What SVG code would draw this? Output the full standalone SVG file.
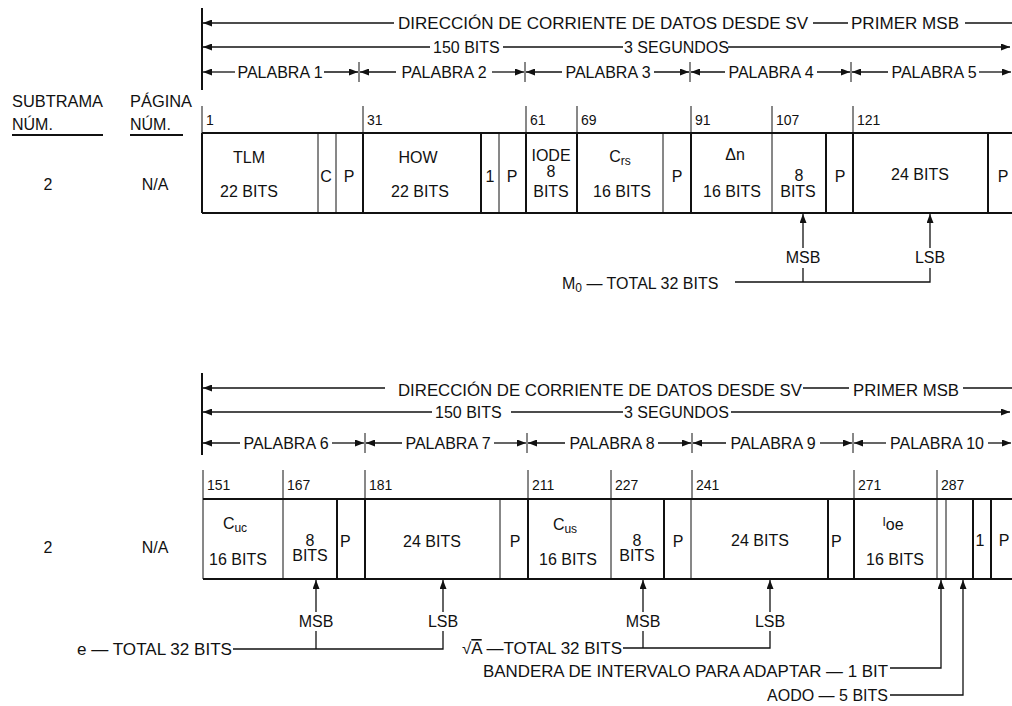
<svg xmlns="http://www.w3.org/2000/svg" width="1012" height="706" viewBox="0 0 1012 706">
<defs>
<marker id="ah" markerUnits="userSpaceOnUse" markerWidth="9" markerHeight="7" refX="9" refY="3.5" orient="auto-start-reverse"><path d="M0,0 L9,3.5 L0,7 z" fill="#111"/></marker>
<style>
text{font-family:"Liberation Sans",Arial,sans-serif;font-size:16px;fill:#111}
.m{text-anchor:middle}
.n{font-size:14px}
.s{font-size:12px}
.ln{stroke:#111;stroke-width:1.3;fill:none}
.tk{stroke:#111;stroke-width:2;fill:none}
.th{stroke:#111;stroke-width:1;fill:none}
.ar{stroke:#111;stroke-width:1.3;fill:none;marker-end:url(#ah)}
.al{stroke:#111;stroke-width:1.3;fill:none;marker-start:url(#ah)}
.ul{stroke:#111;stroke-width:2}
</style>
</defs>
<rect width="1012" height="706" fill="#fff"/>

<!-- ===== TOP HEADER ===== -->
<g id="top-header">
<line class="tk" x1="202" y1="8" x2="202" y2="90"/>
<line class="al" x1="203" y1="23" x2="394" y2="23"/>
<text x="398" y="29" textLength="410" lengthAdjust="spacingAndGlyphs">DIRECCIÓN DE CORRIENTE DE DATOS DESDE SV</text>
<line class="ln" x1="813" y1="23" x2="848" y2="23"/>
<text x="851" y="29" textLength="108" lengthAdjust="spacingAndGlyphs">PRIMER MSB</text>
<line class="ln" x1="965" y1="23" x2="1012" y2="23"/>
<line class="al" x1="203" y1="47" x2="430" y2="47"/>
<text x="433" y="53">150 BITS</text>
<line class="ln" x1="503" y1="47" x2="623" y2="47"/>
<text x="624" y="53">3 SEGUNDOS</text>
<line class="ar" x1="728" y1="47" x2="1010" y2="47"/>
<line class="th" x1="359" y1="62" x2="359" y2="82"/>
<line class="th" x1="525" y1="62" x2="525" y2="82"/>
<line class="th" x1="690" y1="62" x2="690" y2="82"/>
<line class="th" x1="851" y1="62" x2="851" y2="82"/>
<line class="al" x1="203" y1="72" x2="235" y2="72"/><text class="m" x="280" y="78">PALABRA 1</text><line class="ar" x1="324" y1="72" x2="358" y2="72"/>
<line class="al" x1="360" y1="72" x2="396" y2="72"/><text class="m" x="444" y="78">PALABRA 2</text><line class="ar" x1="492" y1="72" x2="524" y2="72"/>
<line class="al" x1="526" y1="72" x2="562" y2="72"/><text class="m" x="608" y="78">PALABRA 3</text><line class="ar" x1="654" y1="72" x2="689" y2="72"/>
<line class="al" x1="691" y1="72" x2="725" y2="72"/><text class="m" x="771" y="78">PALABRA 4</text><line class="ar" x1="817" y1="72" x2="850" y2="72"/>
<line class="al" x1="852" y1="72" x2="888" y2="72"/><text class="m" x="934" y="78">PALABRA 5</text><line class="ar" x1="979" y1="72" x2="1011" y2="72"/>
</g>

<g id="row-labels">
<text x="12" y="107" textLength="91" lengthAdjust="spacingAndGlyphs">SUBTRAMA</text>
<text x="12" y="130">NÚM.</text>
<line class="ul" x1="12" y1="135" x2="103" y2="135"/>
<text x="130" y="107" textLength="62" lengthAdjust="spacingAndGlyphs">PÁGINA</text>
<text x="130" y="130">NÚM.</text>
<line class="ul" x1="130" y1="135" x2="183" y2="135"/>
<text class="m" x="48" y="190">2</text>
<text class="m" x="155" y="190">N/A</text>
<text class="m" x="48" y="553">2</text>
<text class="m" x="155" y="553">N/A</text>
</g>

<!-- ===== TOP TABLE ===== -->
<g id="top-bit-numbers">
<line class="th" x1="202" y1="106" x2="202" y2="133"/><text class="n" x="206" y="125">1</text>
<line class="th" x1="363" y1="106" x2="363" y2="133"/><text class="n" x="367" y="125">31</text>
<line class="th" x1="526" y1="106" x2="526" y2="133"/><text class="n" x="530" y="125">61</text>
<line class="th" x1="577" y1="106" x2="577" y2="133"/><text class="n" x="581" y="125">69</text>
<line class="th" x1="691" y1="106" x2="691" y2="133"/><text class="n" x="695" y="125">91</text>
<line class="th" x1="772" y1="106" x2="772" y2="133"/><text class="n" x="776" y="125">107</text>
<line class="th" x1="853" y1="106" x2="853" y2="133"/><text class="n" x="857" y="125">121</text>
</g>
<g id="top-table-frame">
<line class="tk" x1="202" y1="133" x2="1012" y2="133"/>
<line class="tk" x1="202" y1="213" x2="1012" y2="213"/>
<line class="tk" x1="202" y1="133" x2="202" y2="213"/>
</g>
<g id="tlm"><text class="m" x="249" y="163">TLM</text><text class="m" x="249" y="197">22 BITS</text></g>
<g id="c1"><line class="th" x1="318" y1="133" x2="318" y2="213"/><text class="m" x="326" y="182">C</text></g>
<g id="p1"><line class="th" x1="336" y1="133" x2="336" y2="213"/><text class="m" x="349" y="182">P</text></g>
<g id="how"><line class="tk" x1="363" y1="133" x2="363" y2="213"/><text class="m" x="418" y="163">HOW</text><text class="m" x="420" y="197">22 BITS</text></g>
<g id="t2"><line class="tk" x1="481" y1="133" x2="481" y2="213"/><text class="m" x="490" y="182">1</text></g>
<g id="p2"><line class="th" x1="499" y1="133" x2="499" y2="213"/><text class="m" x="512" y="182">P</text></g>
<g id="iode"><line class="tk" x1="526" y1="133" x2="526" y2="213"/><text class="m" x="551" y="161">IODE</text><text class="m" x="551" y="177">8</text><text class="m" x="551" y="197">BITS</text></g>
<g id="crs"><line class="tk" x1="577" y1="133" x2="577" y2="213"/><text class="m" x="620" y="162">C<tspan class="s" dy="3">rs</tspan></text><text class="m" x="622" y="197">16 BITS</text></g>
<g id="p3"><line class="th" x1="663" y1="133" x2="663" y2="213"/><text class="m" x="677" y="182">P</text></g>
<g id="dn"><line class="tk" x1="691" y1="133" x2="691" y2="213"/><text class="m" x="735" y="160">Δn</text><text class="m" x="732" y="197">16 BITS</text></g>
<g id="m0msb"><line class="th" x1="772" y1="133" x2="772" y2="213"/><text class="m" x="799" y="181">8</text><text class="m" x="798" y="197">BITS</text></g>
<g id="p4"><line class="tk" x1="826" y1="133" x2="826" y2="213"/><text class="m" x="840" y="182">P</text></g>
<g id="m0lsb"><line class="tk" x1="853" y1="133" x2="853" y2="213"/><text class="m" x="920" y="180">24 BITS</text></g>
<g id="p5"><line class="tk" x1="988" y1="133" x2="988" y2="213"/><text class="m" x="1003" y="182">P</text></g>

<g id="top-labels">
<text class="m" x="803" y="263">MSB</text>
<text class="m" x="930" y="263">LSB</text>
<text x="562" y="289">M<tspan class="s" dy="3">0</tspan><tspan dy="-3"> —  TOTAL 32 BITS</tspan></text>
</g>

<!-- ===== BOTTOM HEADER ===== -->
<g id="bottom-header">
<line class="tk" x1="202" y1="373" x2="202" y2="455"/>
<line class="al" x1="203" y1="388" x2="385" y2="388"/>
<text x="398" y="396" textLength="404" lengthAdjust="spacingAndGlyphs">DIRECCIÓN DE CORRIENTE DE DATOS DESDE SV</text>
<line class="ln" x1="803" y1="388" x2="849" y2="388"/>
<text x="853" y="396" textLength="106" lengthAdjust="spacingAndGlyphs">PRIMER MSB</text>
<line class="ln" x1="963" y1="388" x2="1012" y2="388"/>
<line class="al" x1="203" y1="412" x2="432" y2="412"/>
<text x="435" y="418">150 BITS</text>
<line class="ln" x1="511" y1="412" x2="623" y2="412"/>
<text x="624" y="418">3 SEGUNDOS</text>
<line class="ar" x1="731" y1="412" x2="1010" y2="412"/>
<line class="th" x1="365" y1="433" x2="365" y2="453"/>
<line class="th" x1="527" y1="433" x2="527" y2="453"/>
<line class="th" x1="692" y1="433" x2="692" y2="453"/>
<line class="th" x1="853" y1="433" x2="853" y2="453"/>
<line class="al" x1="203" y1="443" x2="240" y2="443"/><text class="m" x="286" y="449">PALABRA 6</text><line class="ar" x1="332" y1="443" x2="364" y2="443"/>
<line class="al" x1="366" y1="443" x2="402" y2="443"/><text class="m" x="448" y="449">PALABRA 7</text><line class="ar" x1="494" y1="443" x2="526" y2="443"/>
<line class="al" x1="528" y1="443" x2="565" y2="443"/><text class="m" x="612" y="449">PALABRA 8</text><line class="ar" x1="658" y1="443" x2="691" y2="443"/>
<line class="al" x1="693" y1="443" x2="726" y2="443"/><text class="m" x="773" y="449">PALABRA 9</text><line class="ar" x1="820" y1="443" x2="852" y2="443"/>
<line class="al" x1="854" y1="443" x2="886" y2="443"/><text class="m" x="937" y="449">PALABRA 10</text><line class="ar" x1="988" y1="443" x2="1011" y2="443"/>
</g>

<!-- ===== BOTTOM TABLE ===== -->
<g id="bottom-bit-numbers">
<line class="th" x1="203" y1="470" x2="203" y2="499"/><text class="n" x="207" y="490">151</text>
<line class="th" x1="283" y1="470" x2="283" y2="499"/><text class="n" x="287" y="490">167</text>
<line class="th" x1="365" y1="470" x2="365" y2="499"/><text class="n" x="369" y="490">181</text>
<line class="th" x1="528" y1="470" x2="528" y2="499"/><text class="n" x="532" y="490">211</text>
<line class="th" x1="611" y1="470" x2="611" y2="499"/><text class="n" x="615" y="490">227</text>
<line class="th" x1="692" y1="470" x2="692" y2="499"/><text class="n" x="696" y="490">241</text>
<line class="th" x1="854" y1="470" x2="854" y2="499"/><text class="n" x="858" y="490">271</text>
<line class="th" x1="937" y1="470" x2="937" y2="499"/><text class="n" x="941" y="490">287</text>
</g>
<g id="bottom-table-frame">
<line class="tk" x1="203" y1="499" x2="1012" y2="499"/>
<line class="tk" x1="203" y1="579" x2="1012" y2="579"/>
<line class="th" x1="203" y1="499" x2="203" y2="579"/>
</g>
<g id="cuc"><text class="m" x="235" y="529">C<tspan class="s" dy="3">uc</tspan></text><text class="m" x="238" y="565">16 BITS</text></g>
<g id="emsb"><line class="th" x1="283" y1="499" x2="283" y2="579"/><text class="m" x="310" y="546">8</text><text class="m" x="310" y="561">BITS</text></g>
<g id="p6"><line class="tk" x1="337" y1="499" x2="337" y2="579"/><text x="340" y="547">P</text></g>
<g id="elsb"><line class="tk" x1="365" y1="499" x2="365" y2="579"/><text class="m" x="432" y="547">24 BITS</text></g>
<g id="p7"><line class="th" x1="500" y1="499" x2="500" y2="579"/><text class="m" x="515" y="547">P</text></g>
<g id="cus"><line class="tk" x1="528" y1="499" x2="528" y2="579"/><text class="m" x="565" y="530">C<tspan class="s" dy="3">us</tspan></text><text class="m" x="568" y="565">16 BITS</text></g>
<g id="amsb"><line class="th" x1="611" y1="499" x2="611" y2="579"/><text class="m" x="637" y="546">8</text><text class="m" x="637" y="561">BITS</text></g>
<g id="p8"><line class="tk" x1="664" y1="499" x2="664" y2="579"/><text class="m" x="678" y="547">P</text></g>
<g id="alsb"><line class="th" x1="691" y1="499" x2="691" y2="579"/><text class="m" x="760" y="546">24 BITS</text></g>
<g id="p9"><line class="tk" x1="828" y1="499" x2="828" y2="579"/><text x="831" y="547">P</text></g>
<g id="toe"><line class="tk" x1="854" y1="499" x2="854" y2="579"/><text class="m" x="893" y="530"><tspan class="s" dy="-4">I</tspan><tspan dy="4">oe</tspan></text><text class="m" x="895" y="565">16 BITS</text></g>
<g id="fit"><line class="th" x1="937" y1="499" x2="937" y2="579"/></g>
<g id="aodo"><line class="th" x1="946" y1="499" x2="946" y2="579"/></g>
<g id="t10"><line class="tk" x1="973" y1="499" x2="973" y2="579"/><text class="m" x="980" y="546">1</text></g>
<g id="p10"><line class="tk" x1="991" y1="499" x2="991" y2="579"/><text class="m" x="1004" y="546">P</text></g>

<g id="bottom-labels">
<text class="m" x="316" y="627">MSB</text>
<text class="m" x="443" y="627">LSB</text>
<text x="77" y="655" textLength="155" lengthAdjust="spacingAndGlyphs">e — TOTAL  32 BITS</text>
<text class="m" x="643" y="627">MSB</text>
<text class="m" x="770" y="627">LSB</text>
<text x="462" y="654" textLength="160" lengthAdjust="spacingAndGlyphs">√<tspan text-decoration="overline">A</tspan> —TOTAL  32 BITS</text>
<text x="483" y="677" textLength="405" lengthAdjust="spacingAndGlyphs">BANDERA DE INTERVALO PARA ADAPTAR  — 1 BIT</text>
<text x="767" y="701" textLength="121" lengthAdjust="spacingAndGlyphs">AODO — 5 BITS</text>
</g>

<!-- ===== CONNECTORS ===== -->
<g id="connectors">
<line class="ar" x1="803" y1="248" x2="803" y2="214"/>
<line class="ar" x1="930" y1="248" x2="930" y2="214"/>
<polyline class="ln" points="803,268 803,282"/>
<polyline class="ln" points="735,282 930,282 930,268"/>
<line class="ar" x1="316" y1="612" x2="316" y2="580"/>
<line class="ar" x1="443" y1="612" x2="443" y2="580"/>
<polyline class="ln" points="316,631 316,649"/>
<polyline class="ln" points="233,649 443,649 443,631"/>
<line class="ar" x1="643" y1="612" x2="643" y2="580"/>
<line class="ar" x1="770" y1="612" x2="770" y2="580"/>
<polyline class="ln" points="643,631 643,648"/>
<polyline class="ln" points="623,648 770,648 770,631"/>
<polyline class="ar" points="890,668 941,668 941,580"/>
<polyline class="ar" points="890,695 963,695 963,580"/>
</g>
</svg>
